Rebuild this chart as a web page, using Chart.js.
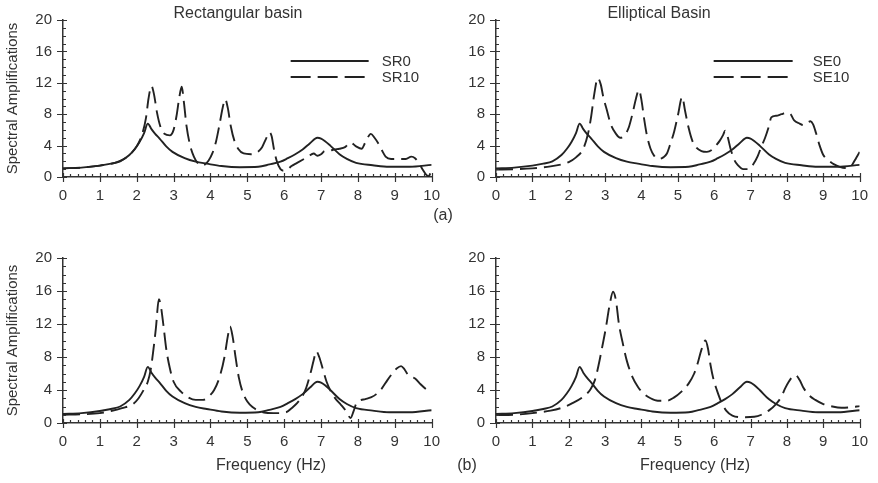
<!DOCTYPE html>
<html><head><meta charset="utf-8">
<script src="https://cdn.jsdelivr.net/npm/chart.js@4.4.1/dist/chart.umd.min.js"></script>
<style>
html,body{margin:0;padding:0;background:#fff;width:878px;height:483px;overflow:hidden;position:relative;font-family:"Liberation Sans",Arial,sans-serif;color:#333}
canvas{position:absolute}
.lbl{position:absolute;white-space:nowrap;transform:translate(-50%,-50%);font-size:16px;color:#333;line-height:1}
</style></head><body>
<canvas id="c1" width="450" height="215" style="left:0;top:0"></canvas>
<canvas id="c2" width="438" height="215" style="left:440px;top:0"></canvas>
<canvas id="c3" width="450" height="253" style="left:0;top:230px"></canvas>
<canvas id="c4" width="438" height="253" style="left:440px;top:230px"></canvas>
<div class="lbl" style="left:238px;top:13px">Rectangular basin</div>
<div class="lbl" style="left:659px;top:13px">Elliptical Basin</div>
<div class="lbl" style="left:443px;top:215px">(a)</div>
<div class="lbl" style="left:467px;top:465px">(b)</div>
<div class="lbl" style="left:271px;top:465px">Frequency (Hz)</div>
<div class="lbl" style="left:695px;top:465px">Frequency (Hz)</div>
<script>
// ---- tick labels ----
const xTicks = [0,1,2,3,4,5,6,7,8,9,10];
const yTicks = [0,4,8,12,16,20];

// ---- solid curve without basin (SR0 / SE0, identical) ----
const freqS0 = [0,0.5,1.0,1.3,1.55,1.8,1.95,2.08,2.2,2.3,2.4,2.5,2.62,2.8,2.97,3.3,3.6,3.9,4.3,4.8,5.3,5.6,5.9,6.1,6.3,6.5,6.7,6.9,7.0,7.1,7.25,7.5,7.7,7.95,8.4,8.85,9.4,10];
const ampS0  = [1.1,1.2,1.45,1.7,2.0,2.8,3.6,4.5,5.6,6.8,6.1,5.5,4.9,3.9,3.2,2.4,1.95,1.7,1.4,1.25,1.3,1.6,1.95,2.4,2.9,3.5,4.3,5.0,4.9,4.6,4.0,2.9,2.3,1.8,1.5,1.3,1.3,1.55];

// ---- (a) Rectangular basin SR10 ----
const freqSR10a = [0,0.5,1.0,1.5,1.8,2.0,2.15,2.25,2.32,2.4,2.47,2.55,2.65,2.75,2.9,3.0,3.08,3.15,3.22,3.28,3.35,3.45,3.55,3.65,3.75,3.85,3.95,4.05,4.15,4.25,4.33,4.4,4.47,4.55,4.65,4.75,4.9,5.1,5.25,5.4,5.5,5.6,5.66,5.72,5.8,5.9,6.0,6.1,6.2,6.35,6.5,6.65,6.8,6.9,7.0,7.1,7.2,7.35,7.5,7.65,7.8,7.95,8.1,8.2,8.35,8.45,8.55,8.65,8.75,8.9,9.1,9.3,9.45,9.55,9.65,9.75,9.85,9.92,10];
const ampSR10a  = [1.1,1.2,1.45,1.95,2.8,3.9,5.5,7.5,10.0,11.6,10.5,8.2,6.3,5.5,5.3,6.0,7.8,10.0,11.5,9.5,6.5,4.0,2.6,1.8,1.45,1.6,2.1,3.0,4.5,6.8,8.8,9.9,8.8,6.5,4.6,3.6,3.0,2.9,3.1,3.8,4.8,5.7,5.2,3.6,2.0,1.0,0.8,1.0,1.4,1.8,2.2,2.6,3.0,2.7,2.9,3.3,3.3,3.5,3.6,3.8,4.4,3.9,3.6,4.4,5.5,5.0,4.3,3.4,2.6,2.3,2.3,2.3,2.6,2.4,1.8,1.0,0.3,0.1,1.0];

// ---- (a) Elliptical basin SE10 ----
const freqSE10a = [0,0.5,1.0,1.5,1.8,2.0,2.2,2.4,2.53,2.62,2.7,2.8,2.88,2.95,3.05,3.15,3.3,3.42,3.55,3.65,3.75,3.85,3.93,4.0,4.07,4.15,4.25,4.35,4.47,4.6,4.7,4.8,4.9,5.0,5.12,5.2,5.3,5.4,5.5,5.65,5.8,5.95,6.05,6.15,6.25,6.3,6.36,6.45,6.55,6.65,6.8,6.95,7.07,7.2,7.3,7.4,7.5,7.57,7.7,7.85,8.0,8.1,8.2,8.35,8.45,8.55,8.65,8.72,8.8,8.9,9.0,9.15,9.3,9.45,9.6,9.72,9.8,9.9,10];
const ampSE10a  = [0.95,1.0,1.1,1.35,1.6,1.9,2.5,3.6,5.5,7.8,10.5,12.6,11.8,10.2,8.5,6.8,5.5,5.0,5.4,6.3,8.0,10.0,11.1,9.8,7.5,5.3,3.6,2.7,2.3,2.5,3.0,4.3,5.8,7.8,10.2,8.4,6.2,4.6,3.8,3.3,3.2,3.5,4.0,4.6,5.4,5.9,5.3,3.6,2.2,1.5,1.0,1.0,1.6,2.7,3.9,5.0,6.4,7.6,7.8,8.0,8.2,8.0,7.2,6.8,6.6,6.9,7.1,6.7,5.6,4.0,2.8,2.1,1.6,1.3,1.15,1.15,1.6,2.4,3.2];

// ---- (b) Rectangular basin SR10 ----
const freqSR10b = [0,0.5,1.0,1.3,1.6,1.9,2.05,2.2,2.3,2.38,2.45,2.52,2.6,2.65,2.72,2.8,2.9,3.0,3.2,3.4,3.6,3.8,3.95,4.1,4.25,4.38,4.47,4.53,4.6,4.68,4.77,4.87,5.0,5.15,5.3,5.5,5.8,6.05,6.2,6.35,6.5,6.6,6.7,6.8,6.87,6.95,7.05,7.15,7.28,7.4,7.5,7.6,7.7,7.8,7.88,7.95,8.05,8.2,8.35,8.5,8.65,8.8,8.95,9.05,9.17,9.25,9.35,9.45,9.55,9.7,9.85,10];
const ampSR10b  = [1.0,1.05,1.2,1.45,1.8,2.3,3.0,4.1,5.0,6.5,8.8,11.5,15.0,14.3,12.0,9.0,6.6,5.0,3.8,3.1,2.8,2.8,3.2,4.0,5.6,8.0,10.5,11.7,10.5,8.0,5.5,3.8,2.6,1.9,1.5,1.25,1.2,1.3,1.8,2.4,3.3,4.3,5.8,7.6,8.7,8.0,6.5,5.0,3.7,2.9,2.4,1.9,1.3,0.6,1.4,2.3,2.7,2.9,3.1,3.5,4.2,5.2,6.1,6.6,6.9,6.6,5.9,5.6,5.4,4.7,4.1,3.7];

// ---- (b) Elliptical basin SE10 ----
const freqSE10b = [0,0.5,1.0,1.5,1.85,2.1,2.4,2.6,2.72,2.82,2.92,3.02,3.12,3.22,3.3,3.38,3.48,3.6,3.75,3.9,4.05,4.25,4.45,4.7,4.9,5.1,5.3,5.45,5.55,5.65,5.76,5.83,5.9,5.98,6.08,6.2,6.33,6.5,6.8,7.1,7.3,7.5,7.7,7.85,7.95,8.05,8.15,8.24,8.35,8.45,8.6,8.78,9.0,9.25,9.5,9.75,10];
const ampSE10b  = [0.95,1.0,1.2,1.5,1.9,2.4,3.2,4.1,5.2,7.0,9.2,11.5,14.2,15.9,14.8,12.0,9.8,7.5,5.6,4.4,3.6,3.0,2.7,2.7,3.1,3.8,4.8,6.0,7.3,8.9,10.0,9.0,7.0,5.3,3.9,2.5,1.5,0.9,0.7,0.75,1.0,1.5,2.3,3.2,4.2,5.0,5.6,5.8,5.2,4.3,3.4,2.8,2.3,2.0,1.85,1.9,2.05];

const zip = (xs, ys) => xs.map((x, i) => ({x: x, y: ys[i]}));
const INK = '#222';
const AXIS = '#333';
const FONT = "'Liberation Sans', Arial, sans-serif";

const tickPlugin = {
  id: 'axisTicks',
  afterDraw(chart) {
    const {ctx, chartArea: a, scales: {x, y}} = chart;
    ctx.save();
    ctx.strokeStyle = AXIS; ctx.lineWidth = 1.2;
    ctx.beginPath();
    const xMin = xTicks[0], xMax = xTicks[xTicks.length - 1];
    const nx = (xMax - xMin) * 5;
    for (let i = 0; i <= nx; i++) {
      const v = xMin + i / 5;
      const major = i % 5 === 0;
      const px = Math.round(x.getPixelForValue(v)) + 0.5;
      ctx.moveTo(px, a.bottom + (major ? 5 : 0));
      ctx.lineTo(px, a.bottom - (major ? 4 : 3));
    }
    const yMin = yTicks[0], yMax = yTicks[yTicks.length - 1];
    const step = yTicks[1] - yTicks[0];
    for (let v = yMin; v <= yMax; v++) {
      const major = (v - yMin) % step === 0;
      const py = Math.round(y.getPixelForValue(v)) + 0.5;
      ctx.moveTo(a.left - (major ? 6 : 0), py);
      ctx.lineTo(a.left + (major ? 4 : 3), py);
    }
    ctx.stroke();
    ctx.restore();
  }
};

const legendPlugin = {
  id: 'inLegend',
  afterDraw(chart, args, opts) {
    if (!opts || !opts.show) return;
    const {ctx, chartArea: a} = chart;
    ctx.save();
    chart.data.datasets.forEach((ds, i) => {
      const yy = a.top + opts.top + i * opts.gap;
      const x0 = a.right - opts.lineFromRight;
      ctx.strokeStyle = ds.borderColor; ctx.lineWidth = ds.borderWidth;
      ctx.setLineDash(ds.borderDash ? [20, 7] : []);
      ctx.beginPath(); ctx.moveTo(x0, yy); ctx.lineTo(x0 + opts.lineLen, yy); ctx.stroke();
      ctx.setLineDash([]);
      ctx.fillStyle = AXIS; ctx.font = '15px ' + FONT; ctx.textBaseline = 'middle';
      ctx.fillText(ds.label, a.right - opts.textFromRight, yy + 1);
    });
    ctx.restore();
  }
};

function panel(id, labels, seriesB, cfg) {
  const datasets = [
    {label: labels[0], data: zip(freqS0, ampS0), borderColor: INK, borderWidth: 1.9, pointRadius: 0, cubicInterpolationMode: 'monotone', fill: false},
    {label: labels[1], data: zip(seriesB[0], seriesB[1]), borderColor: INK, borderWidth: 1.9, borderDash: [17, 7], pointRadius: 0, cubicInterpolationMode: 'monotone', fill: false}
  ];
  return new Chart(document.getElementById(id), {
    type: 'line',
    data: {datasets},
    plugins: [tickPlugin, legendPlugin],
    options: {
      responsive: false, animation: false,
      layout: {padding: {top: cfg.top, right: cfg.right, left: 0, bottom: 0}},
      plugins: {legend: {display: false}, tooltip: {enabled: false}, inLegend: cfg.legend || {show: false}},
      scales: {
        x: {
          type: 'linear', min: xTicks[0], max: xTicks[xTicks.length - 1],
          afterFit(s) { s.height = cfg.xh; },
          border: {display: true, color: AXIS, width: 1.5},
          grid: {display: true, drawOnChartArea: false, drawTicks: false},
          ticks: {stepSize: 1, padding: 10, color: AXIS, font: {family: FONT, size: 15}, maxRotation: 0, autoSkip: false}
        },
        y: {
          type: 'linear', min: yTicks[0], max: yTicks[yTicks.length - 1],
          afterFit(s) { s.width = cfg.yw; },
          border: {display: true, color: AXIS, width: 1.5},
          grid: {display: true, drawOnChartArea: false, drawTicks: false},
          ticks: {stepSize: yTicks[1] - yTicks[0], padding: 11, color: AXIS, font: {family: FONT, size: 15}},
          title: {display: !!cfg.ytitle, text: 'Spectral Amplifications', color: AXIS, font: {family: FONT, size: 15}, padding: {top: 4, bottom: 0}}
        }
      }
    }
  });
}

panel('c1', ['SR0', 'SR10'], [freqSR10a, ampSR10a], {top: 11, right: 17, xh: 38, yw: 63, ytitle: true, legend: {show: true, top: 41, gap: 16, lineFromRight: 141, lineLen: 78, textFromRight: 50}});
panel('c2', ['SE0', 'SE10'], [freqSE10a, ampSE10a], {top: 11, right: 11, xh: 38, yw: 56, ytitle: false, legend: {show: true, top: 41, gap: 16, lineFromRight: 146, lineLen: 79, textFromRight: 47}});
panel('c3', ['SR0', 'SR10'], [freqSR10b, ampSR10b], {top: 28, right: 16, xh: 60, yw: 63, ytitle: true});
panel('c4', ['SE0', 'SE10'], [freqSE10b, ampSE10b], {top: 28, right: 12, xh: 60, yw: 56, ytitle: false});
</script>
</body></html>
